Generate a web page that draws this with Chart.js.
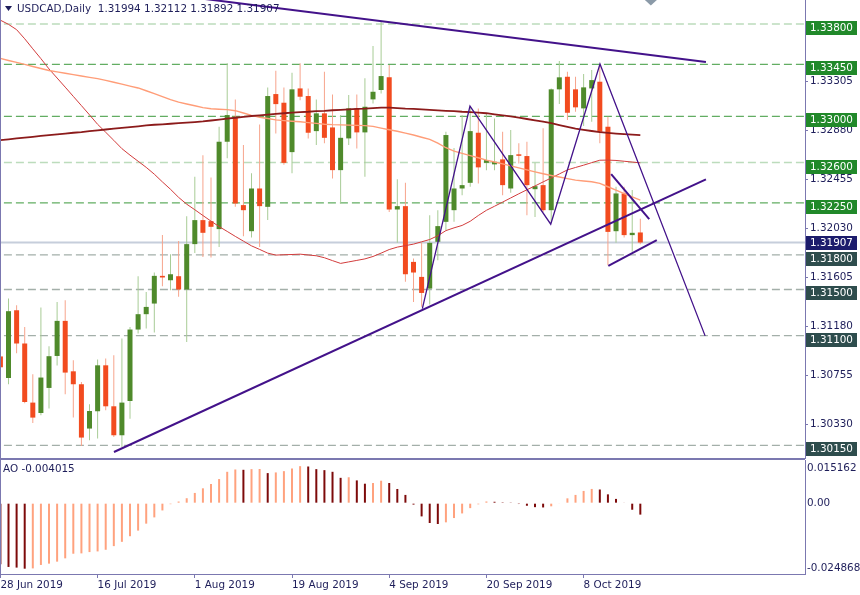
<!DOCTYPE html>
<html><head><meta charset="utf-8">
<script src="https://cdn.jsdelivr.net/npm/chart.js@4/dist/chart.umd.min.js"></script>
<style>
html,body{margin:0;padding:0;background:#fff;width:860px;height:595px;overflow:hidden}
#c1{position:absolute;left:0;top:0}
#c2{position:absolute;left:0;top:460px}
</style></head>
<body>
<canvas id="c1" width="860" height="460"></canvas>
<canvas id="c2" width="860" height="135"></canvas>
<script>
// ---------- DATA ----------
const symbol = 'USDCAD,Daily';
const dateLabels = ['28 Jun 2019','16 Jul 2019','1 Aug 2019','19 Aug 2019','4 Sep 2019','20 Sep 2019','8 Oct 2019'];
const dateLabelBars = [0,12,24,36,48,60,72];

const open = [1.3092,1.30733,1.3132,1.31032,1.3052,1.3043,1.30647,1.30924,1.31228,1.30791,
1.30679,1.30295,1.30445,1.30843,1.30488,1.30237,1.30534,1.31153,1.31286,1.31378,
1.31618,1.3158,1.31615,1.315,1.31893,1.32101,1.32092,1.32023,1.3278,1.32996,
1.32231,1.32005,1.32375,1.32216,1.33193,1.33118,1.3269,1.33242,1.33176,1.32872,
1.33026,1.32904,1.32534,1.32809,1.33069,1.32861,1.33147,1.33228,1.33338,1.32193,
1.32222,1.31739,1.31609,1.31508,1.31913,1.32086,1.32187,1.32375,1.32424,1.32858,
1.32597,1.32584,1.32627,1.32375,1.3267,1.32656,1.32369,1.32404,1.32187,1.33234,
1.33343,1.33234,1.33069,1.33242,1.333,1.3291,1.32005,1.32332,1.31971,1.31994];
const high = [1.31017,1.31422,1.31364,1.31176,1.30765,1.31344,1.31008,1.31392,1.31407,1.30887,
1.30699,1.30505,1.30893,1.30902,1.3093,1.31075,1.31176,1.31615,1.31479,1.31647,
1.31971,1.31806,1.31921,1.32135,1.32476,1.32664,1.32471,1.3291,1.33459,1.33147,
1.32751,1.32506,1.3293,1.33251,1.33395,1.33251,1.33378,1.33459,1.33242,1.33147,
1.33386,1.3319,1.33011,1.33184,1.3319,1.33329,1.33609,1.3382,1.33444,1.32454,
1.32424,1.31769,1.31904,1.32144,1.32187,1.32866,1.32725,1.33011,1.33089,1.33069,
1.33026,1.32982,1.32866,1.32881,1.32766,1.3278,1.32597,1.32896,1.33242,1.33479,
1.33386,1.33343,1.33366,1.33401,1.33453,1.32996,1.32389,1.32389,1.32361,1.32112];
const low = [1.30583,1.30679,1.30948,1.30514,1.30343,1.3041,1.30468,1.30841,1.30592,1.3039,
1.30144,1.30193,1.30208,1.30453,1.30222,1.30135,1.30381,1.31118,1.31162,1.31127,
1.31528,1.31494,1.31436,1.31046,1.31817,1.31782,1.31777,1.31869,1.32638,1.32216,
1.31962,1.31951,1.31869,1.32101,1.32852,1.3258,1.32506,1.3314,1.32809,1.32751,
1.32766,1.32462,1.32245,1.32751,1.32722,1.32476,1.33112,1.33199,1.32172,1.31904,
1.31566,1.31392,1.3135,1.3137,1.31754,1.32014,1.32086,1.32317,1.32389,1.32419,
1.32534,1.32534,1.32317,1.32337,1.32592,1.32144,1.32129,1.32172,1.32075,1.33106,
1.32968,1.3304,1.32916,1.32953,1.32766,1.3171,1.31904,1.31951,1.31826,1.31892];
const close = [1.30826,1.31312,1.31032,1.30525,1.3039,1.30737,1.30922,1.31228,1.3078,1.30679,
1.30217,1.30447,1.30843,1.30488,1.30237,1.3052,1.31153,1.31286,1.31349,1.31618,
1.31604,1.31632,1.315,1.31893,1.32101,1.31991,1.32043,1.3278,1.33011,1.32245,
1.32187,1.32375,1.32222,1.33176,1.33106,1.32597,1.33234,1.3317,1.32858,1.33026,
1.32814,1.32534,1.32814,1.33069,1.32861,1.33083,1.33213,1.33349,1.32193,1.32222,
1.31632,1.31647,1.3147,1.31904,1.32049,1.32838,1.32375,1.32404,1.32872,1.32558,
1.32621,1.32606,1.32404,1.32664,1.32658,1.32404,1.32395,1.32187,1.33234,1.33338,
1.33031,1.33078,1.33251,1.33314,1.32866,1.31999,1.32332,1.31971,1.31991,1.31907];

const maSlow = [1.32794,1.32801,1.32809,1.32816,1.32823,1.3283,1.32837,1.32844,1.32851,1.32858,
1.32864,1.32872,1.32879,1.32886,1.32893,1.329,1.32907,1.32914,1.32921,1.32927,
1.32931,1.32936,1.32941,1.32945,1.3295,1.32956,1.32964,1.32972,1.3298,1.32988,
1.32996,1.33003,1.33009,1.33015,1.33021,1.33027,1.33032,1.33037,1.3304,1.33045,
1.33048,1.33053,1.33056,1.3306,1.33064,1.33067,1.33072,1.33076,1.33075,1.33072,
1.33067,1.33064,1.3306,1.33056,1.33052,1.33048,1.33045,1.3304,1.33037,1.33033,
1.33027,1.33017,1.33008,1.32999,1.32988,1.32977,1.32966,1.32954,1.32942,1.32925,
1.32909,1.32893,1.32883,1.32873,1.32864,1.32857,1.32851,1.32846,1.32842,1.32838];
const maMid = [1.33502,1.33484,1.33467,1.3345,1.33432,1.33415,1.33397,1.33385,1.33373,1.33361,
1.3335,1.33338,1.33327,1.33312,1.33295,1.33279,1.33262,1.33246,1.33222,1.33197,
1.33171,1.33145,1.33123,1.33107,1.33092,1.33076,1.33066,1.33062,1.33058,1.33049,
1.33029,1.33009,1.32992,1.32981,1.32969,1.32963,1.32958,1.32953,1.32946,1.32939,
1.32932,1.32928,1.32926,1.32924,1.32922,1.3292,1.32913,1.32898,1.32884,1.32871,
1.32855,1.32838,1.32819,1.32801,1.32768,1.32728,1.32698,1.32679,1.3266,1.32641,
1.32621,1.32604,1.32588,1.32571,1.32553,1.32536,1.32519,1.32503,1.32488,1.32474,
1.3246,1.32447,1.3244,1.32433,1.32419,1.3239,1.32361,1.32331,1.32302,1.32274];
const maFast = [1.33833,1.33797,1.33751,1.33672,1.33585,1.335,1.33411,1.33332,1.33253,1.33173,
1.33093,1.33013,1.32931,1.32862,1.32792,1.3272,1.32664,1.32611,1.32558,1.32499,
1.32432,1.32368,1.32298,1.32239,1.32191,1.32141,1.32092,1.32045,1.32003,1.3196,
1.31919,1.31878,1.31847,1.31815,1.31798,1.31801,1.31803,1.31806,1.31799,1.31792,
1.31775,1.3175,1.31726,1.31739,1.31752,1.31765,1.31786,1.31815,1.31846,1.31867,
1.3188,1.31893,1.31913,1.31933,1.31966,1.3201,1.32034,1.32055,1.32091,1.32141,
1.32186,1.32221,1.32257,1.32293,1.32329,1.32364,1.32397,1.32432,1.32466,1.32501,
1.32536,1.32557,1.32577,1.32599,1.3262,1.32621,1.32618,1.32611,1.32604,1.32597];

const ao = [-0.02146,-0.02239,-0.02262,-0.0230,-0.0229,-0.02169,-0.02123,-0.02053,-0.01937,-0.01775,
-0.01763,-0.01717,-0.01694,-0.01636,-0.01508,-0.01357,-0.0116,-0.00963,-0.00719,-0.00499,
-0.00255,-0.00035,0.00058,0.00174,0.0036,0.00522,0.00673,0.00847,0.01102,0.01183,
0.01172,0.01195,0.0120,0.01056,0.0108,0.01125,0.01218,0.0130,0.01288,0.01195,
0.0116,0.01102,0.0089,0.0091,0.0080,0.00684,0.00708,0.00789,0.00708,0.00499,
0.0029,-0.0005,-0.00464,-0.00696,-0.00731,-0.00673,-0.00522,-0.0036,-0.00174,-0.0004,
0.0006,0.0005,0.0003,0.0001,-0.0003,-0.0009,-0.0014,-0.0015,-0.0011,-0.0002,
0.0017,0.0029,0.0043,0.005,0.0048,0.0031,0.0015,0.0002,-0.0023,-0.004015];

const priceTicks = [1.3033,1.30755,1.3118,1.31605,1.3203,1.32455,1.3288,1.33305,1.3373];
const levelsStrong = [1.3345,1.33,1.3225];
const levelsPale = [1.338,1.326];
const levelsSupport = [1.318,1.315,1.311,1.3015];
const aoTicks = [0.015162,0,-0.024868];
const priceRange = [1.3004,1.34008];
const aoRange = [-0.024868,0.015162];
const barRange = [-0.05,99.33];

const trendUpper = [[18,1.34081],[87.1,1.3347]];
const trendLower = [[14.02,1.30092],[87.1,1.32454]];
const zigzag = [[52.09,1.31335],[57.97,1.33089],[67.94,1.32066],[74.02,1.33453],[87,1.31098]];
const channelTop = [[75.4,1.32499],[80.1,1.32109]];
const channelBottom = [[75.05,1.31704],[81.03,1.31927]];

// ---------- STYLE ----------
const FONT_FAMILY = 'DejaVu Sans';
const FONT = '10.4px "DejaVu Sans"';
const TEXT = '#1e1e5a';
const AXIS = '#7b78b0';
const BULL = '#4f8a2b', BULL_W = '#a8cc96', BEAR = '#f24b1f', BEAR_W = '#f7a48c';
const AO_UP = '#ffa27e', AO_DN = '#7d0a0a';
const PURPLE = '#43128a';

Chart.defaults.font.family = FONT_FAMILY;
Chart.defaults.font.size = 10.4;
Chart.defaults.color = TEXT;

const idx = open.map((_, i) => i);
const isBull = idx.map(i => close[i] >= open[i]);
const pts = arr => arr.map(([a, b]) => ({x: a, y: b}));
const hline = v => [{x: barRange[0] - 1, y: v}, {x: barRange[1] + 1, y: v}];

const lineDs = (data, color, width, order, dash) => ({
  type: 'line', data, borderColor: color, borderWidth: width, pointRadius: 0,
  borderDash: dash || [], tension: 0, order, fill: false
});

const datasets = [];
// trend lines (top)
datasets.push(lineDs(pts(trendUpper), PURPLE, 2, 0));
datasets.push(lineDs(pts(trendLower), PURPLE, 2, 0));
datasets.push(lineDs(pts(zigzag), PURPLE, 1.3, 0));
datasets.push(lineDs(pts(channelTop), PURPLE, 2, 0));
datasets.push(lineDs(pts(channelBottom), PURPLE, 2, 0));
// moving averages
datasets.push(lineDs(idx.map(i => ({x: i, y: maSlow[i]})), '#8c1b1b', 1.8, 1));
datasets.push(lineDs(idx.map(i => ({x: i, y: maMid[i]})), '#ff9d78', 1.4, 1));
datasets.push(lineDs(idx.map(i => ({x: i, y: maFast[i]})), '#d23c3c', 1, 1));
// candles
datasets.push({
  type: 'bar', data: idx.map(i => ({x: i, y: [open[i], close[i]]})),
  backgroundColor: idx.map(i => isBull[i] ? BULL : BEAR),
  barThickness: 5, grouped: false, minBarLength: 1.5, inflateAmount: 0, borderWidth: 0, order: 2
});
datasets.push({
  type: 'bar', data: idx.map(i => ({x: i, y: [low[i], high[i]]})),
  backgroundColor: idx.map(i => isBull[i] ? BULL_W : BEAR_W),
  barThickness: 1, grouped: false, inflateAmount: 0, borderWidth: 0, order: 3
});
// current price line
datasets.push(lineDs(hline(close[close.length - 1]), '#c6cedb', 2, 4));
// levels
levelsStrong.forEach(v => datasets.push(lineDs(hline(v), '#62ad62', 1.3, 5, [8, 4])));
levelsPale.forEach(v => datasets.push(lineDs(hline(v), '#bcdcbc', 1.3, 5, [8, 4])));
levelsSupport.forEach(v => datasets.push(lineDs(hline(v), '#a3afa9', 1.3, 5, [8, 4])));

const overlay1 = {
  id: 'overlay1',
  afterDraw(chart) {
    const {ctx, chartArea: a, scales: {x, y}} = chart;
    ctx.save();
    ctx.fillStyle = AXIS;
    ctx.fillRect(0, a.bottom, a.right, 2);
    ctx.fillRect(0, 0, 1, a.bottom);
    ctx.font = FONT; ctx.textBaseline = 'middle'; ctx.textAlign = 'left';
    const box = (v, bg, dy) => {
      const py = y.getPixelForValue(v);
      const top = Math.round(py + dy);
      ctx.fillStyle = bg; ctx.fillRect(a.right + 1, top, 51, 14);
      ctx.fillStyle = '#ffffff'; ctx.fillText(v.toFixed(5), a.right + 5, top + 7.5);
    };
    levelsPale.concat(levelsStrong).forEach(v => box(v, '#21892a', -3));
    levelsSupport.forEach(v => box(v, '#2e4d4d', -3));
    box(close[close.length - 1], '#1c1c6c', -6.5);
    // title
    ctx.fillStyle = TEXT;
    ctx.beginPath(); ctx.moveTo(5, 6); ctx.lineTo(12, 6); ctx.lineTo(8.5, 11); ctx.closePath(); ctx.fill();
    const n = close.length - 1;
    ctx.fillText(symbol + '  ' + [open[n], high[n], low[n], close[n]].map(v => v.toFixed(5)).join(' '), 17, 9);
    // shift marker
    const sx = x.getPixelForValue(close.length + 0.3);
    ctx.fillStyle = '#8b9aa8';
    ctx.beginPath(); ctx.moveTo(sx - 6, 0); ctx.lineTo(sx + 6, 0); ctx.lineTo(sx, 5.5); ctx.closePath(); ctx.fill();
    ctx.restore();
  }
};

new Chart(document.getElementById('c1'), {
  type: 'bar',
  data: {datasets},
  options: {
    responsive: false, animation: false, devicePixelRatio: 1, events: [],
    layout: {padding: {left: 0, right: 0, top: 0, bottom: 2}},
    plugins: {legend: {display: false}, tooltip: {enabled: false}},
    scales: {
      x: {type: 'linear', min: barRange[0], max: barRange[1], display: false, offset: false, grid: {offset: false}},
      y: {
        type: 'linear', position: 'right', min: priceRange[0], max: priceRange[1],
        afterBuildTicks: s => { s.ticks = priceTicks.map(v => ({value: v})); },
        afterFit: s => { s.width = 55; s.paddingTop = 0; s.paddingBottom = 0; },
        ticks: {callback: v => Number(v).toFixed(5), color: TEXT, padding: 2, font: {family: FONT_FAMILY, size: 10.4}, autoSkip: false},
        grid: {drawOnChartArea: false, drawTicks: true, tickLength: 3, color: AXIS},
        border: {display: true, color: AXIS, width: 1}
      }
    }
  },
  plugins: [overlay1]
});

// ---------- AO panel ----------
const aoColors = ao.map((v, i) => (i > 0 && v > ao[i - 1]) ? AO_UP : AO_DN);
const overlay2 = {
  id: 'overlay2',
  afterDraw(chart) {
    const {ctx, chartArea: a, scales: {ao: ys}} = chart;
    ctx.save();
    ctx.fillStyle = AXIS;
    ctx.fillRect(0, 0, 1, a.bottom);
    ctx.font = FONT; ctx.textBaseline = 'middle'; ctx.textAlign = 'left';
    ctx.fillStyle = TEXT;
    ctx.fillText('AO ' + ao[ao.length - 1].toFixed(6), 3, 9.5);
    const fmt = v => v === 0 ? '0.00' : v.toFixed(6);
    aoTicks.forEach(v => {
      let py = ys.getPixelForValue(v);
      py = Math.min(Math.max(py, a.top + 8), a.bottom - 6);
      ctx.fillText(fmt(v), a.right + 2, py);
    });
    ctx.restore();
  }
};

new Chart(document.getElementById('c2'), {
  type: 'bar',
  data: {datasets: [{
    data: idx.map(i => ({x: i, y: ao[i]})), backgroundColor: aoColors,
    barThickness: 2, grouped: false, inflateAmount: 0, borderWidth: 0, yAxisID: 'ao'
  }]},
  options: {
    responsive: false, animation: false, devicePixelRatio: 1, events: [],
    layout: {padding: 0},
    plugins: {legend: {display: false}, tooltip: {enabled: false}},
    scales: {
      x: {
        type: 'linear', position: 'bottom', min: barRange[0], max: barRange[1], offset: false,
        afterBuildTicks: s => { s.ticks = dateLabelBars.map(v => ({value: v})); },
        afterFit: s => { s.height = 21; s.paddingLeft = 0; s.paddingRight = 0; },
        ticks: {
          callback: v => dateLabels[dateLabelBars.indexOf(v)] || '', align: 'start',
          maxRotation: 0, autoSkip: false, padding: 1, color: TEXT, font: {family: FONT_FAMILY, size: 10.4}
        },
        grid: {drawOnChartArea: false, drawTicks: true, tickLength: 4, color: AXIS, offset: false},
        border: {display: true, color: AXIS, width: 1}
      },
      ao: {
        type: 'linear', position: 'right', min: aoRange[0], max: aoRange[1],
        afterFit: s => { s.width = 55; s.paddingTop = 0; s.paddingBottom = 0; },
        ticks: {display: false},
        grid: {drawOnChartArea: false, drawTicks: false},
        border: {display: true, color: AXIS, width: 1}
      }
    }
  },
  plugins: [overlay2]
});
</script>
</body></html>
